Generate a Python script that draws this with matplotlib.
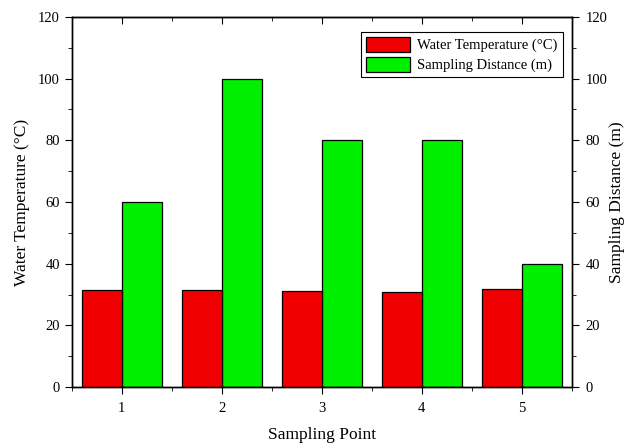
import numpy as np
import matplotlib.pyplot as plt
from matplotlib.ticker import MultipleLocator

plt.rcParams['font.family'] = ['Liberation Serif', 'DejaVu Serif']

# data
points = [1, 2, 3, 4, 5]
water_temp = [31.6, 31.4, 31.3, 31.0, 31.9]
distance = [60, 100, 80, 80, 40]

x = np.array(points)
w = 0.4

fig = plt.figure(figsize=(6.25, 4.43), dpi=100)
ax = fig.add_axes([0.115, 0.126, 0.8, 0.836])
ax2 = ax.twinx()

b1 = ax.bar(x - w / 2, water_temp, width=w, color='#f00000', edgecolor='black',
            linewidth=0.9, label='Water Temperature (\u00b0C)')
b2 = ax2.bar(x + w / 2, distance, width=w, color='#00f000', edgecolor='black',
             linewidth=0.9, label='Sampling Distance (m)')

for a in (ax, ax2):
    a.set_ylim(0, 120)
    a.set_xlim(0.5, 5.5)
    a.yaxis.set_major_locator(MultipleLocator(20))
    a.yaxis.set_minor_locator(MultipleLocator(10))
    for s in a.spines.values():
        s.set_linewidth(1.0)

ax.set_xticks(points)
ax.xaxis.set_minor_locator(MultipleLocator(0.5))
ax.tick_params(axis='x', which='both', direction='out', top=False, labelsize=10.5, pad=6)
ax.tick_params(axis='x', which='major', length=5)
ax.tick_params(axis='x', which='minor', length=3)
ax.tick_params(axis='y', which='major', direction='out', length=5, labelsize=10.5)
ax.tick_params(axis='y', which='minor', direction='out', length=3)
ax2.tick_params(axis='y', which='major', direction='out', length=5, labelsize=10.5, pad=5)
ax2.tick_params(axis='y', which='minor', direction='out', length=3)

# top ticks point inwards
sec = ax.secondary_xaxis('top')
sec.set_xticks(points)
sec.xaxis.set_minor_locator(MultipleLocator(0.5))
sec.tick_params(axis='x', which='major', direction='in', length=5, labeltop=False)
sec.tick_params(axis='x', which='minor', direction='in', length=3)

ax.set_xlabel('Sampling Point', fontsize=12.5, labelpad=8)
ax.set_ylabel('Water Temperature (\u00b0C)', fontsize=12.5, labelpad=6)
ax2.set_ylabel('Sampling Distance (m)', fontsize=12.5, rotation=90, labelpad=1)

leg = ax.legend(handles=[b1, b2], loc='upper right', bbox_to_anchor=(0.982, 0.96),
                borderaxespad=0,
                fontsize=10.5, fancybox=False, edgecolor='black', framealpha=1,
                handlelength=3.0, handleheight=1.2, borderpad=0.35,
                labelspacing=0.3, handletextpad=0.5)
leg.get_frame().set_linewidth(0.8)
ax.set_zorder(ax2.get_zorder() + 1)
ax.patch.set_visible(False)

fig.savefig('out.png', dpi=100)
